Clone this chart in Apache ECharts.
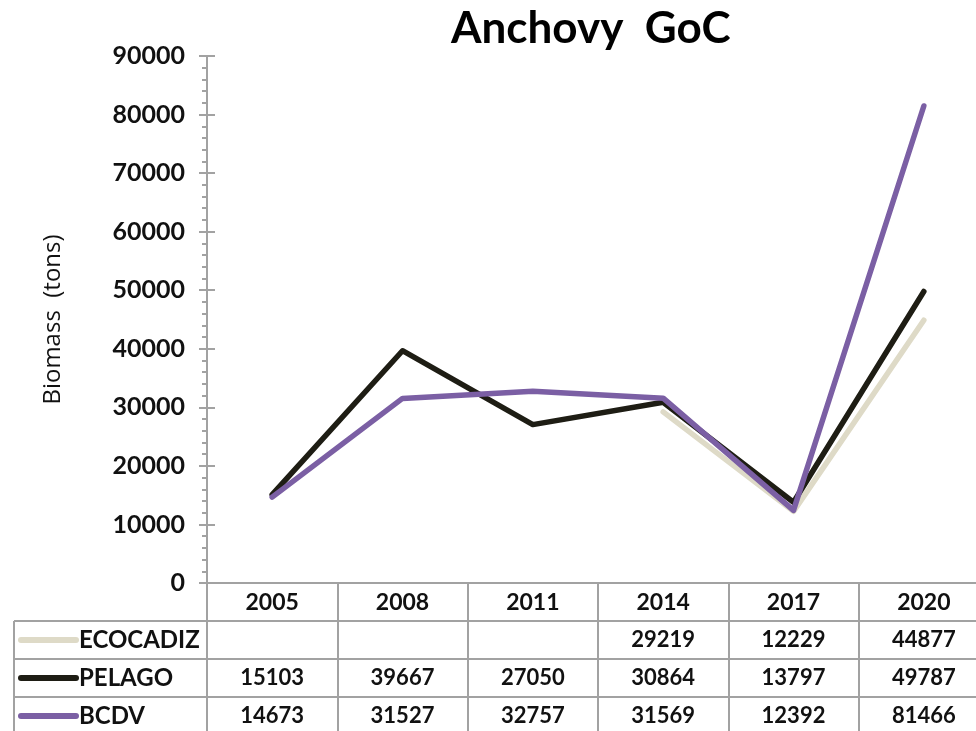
<!DOCTYPE html>
<html><head><meta charset="utf-8">
<script src="https://cdn.jsdelivr.net/npm/echarts@6/dist/echarts.min.js"></script>
<style>html,body{margin:0;padding:0;overflow:hidden;background:#fff}#c{width:976px;height:731px}</style>
</head><body><div id="c"></div>
<script>
const years = ['2005', '2008', '2011', '2014', '2017', '2020'];
const ecocadiz = [null, null, null, 29219, 12229, 44877];
const pelago = [15103, 39667, 27050, 30864, 13797, 49787];
const bcdv = [14673, 31527, 32757, 31569, 12392, 81466];
const seriesNames = ['ECOCADIZ', 'PELAGO', 'BCDV'];
const seriesValues = [ecocadiz, pelago, bcdv];
const seriesColors = ['#dedac7', '#1e1d14', '#7b5fa4'];
const yMin = 0, yMax = 90000, yStep = 10000;

const gray = '#a2a2a2';
const txt = '#111111';
const FONT = 'Lato';

const chart = echarts.init(document.getElementById('c'));
const option = {
  animation: false,
  backgroundColor: '#ffffff',
  title: {
    text: 'Anchovy  GoC',
    left: 446, top: 2,
    textStyle: { fontFamily: FONT, fontWeight: 'bold', fontSize: 44, color: '#000' }
  },
  grid: { left: 207, top: 56, width: 782, height: 527, outerBoundsMode: 'none', containLabel: false },
  xAxis: {
    type: 'category',
    data: years,
    boundaryGap: true,
    axisLine: { show: true, lineStyle: { color: gray, width: 2 } },
    axisTick: { show: true, interval: 0, length: 152, lineStyle: { color: gray, width: 2 } },
    axisLabel: { interval: 0, margin: 20, verticalAlign: 'middle', fontFamily: FONT, fontWeight: 'bold', fontSize: 23, color: txt },
    splitLine: { show: false }
  },
  yAxis: [{
    type: 'value',
    min: yMin, max: yMax, interval: yStep,
    name: 'Biomass  (tons)',
    nameLocation: 'middle',
    nameGap: 142,
    nameRotate: 90,
    nameTextStyle: { fontFamily: 'Open Sans', fontSize: 24, color: txt },
    axisLine: { show: true, lineStyle: { color: gray, width: 2 } },
    axisTick: { show: true, length: 8, lineStyle: { color: gray, width: 2 } },
    minorTick: { show: true, splitNumber: 5, length: 5, lineStyle: { color: gray, width: 2 } },
    axisLabel: { margin: 22, fontFamily: FONT, fontWeight: 'bold', fontSize: 25, color: txt, formatter: v => String(v) },
    splitLine: { show: false }
  }, {
    type: 'value',
    min: yMin, max: yMax, interval: yStep,
    position: 'left',
    axisLine: { show: false },
    axisTick: { show: true, inside: true, length: 8, lineStyle: { color: gray, width: 2 } },
    axisLabel: { show: false },
    splitLine: { show: false }
  }],
  series: seriesNames.map((n, i) => ({
    name: n,
    type: 'line',
    data: seriesValues[i],
    yAxisIndex: 0,
    showSymbol: false,
    symbol: 'none',
    connectNulls: false,
    z: 2 + i,
    lineStyle: { color: seriesColors[i], width: 5.5, cap: 'round', join: 'round' }
  }))
};
chart.setOption(option);

// Data table under the plot, aligned to the category axis
const y0 = chart.convertToPixel({ yAxisIndex: 0 }, 0);
const rowH = 38;
const tableLeft = 14;
const rightEnd = 990;
const g = [];
for (let k = 1; k <= 4; k++) {
  const y = Math.round(y0 + rowH * k);
  g.push({ type: 'line', shape: { x1: tableLeft, y1: y, x2: rightEnd, y2: y }, style: { stroke: gray, lineWidth: 2 } });
}
g.push({ type: 'line', shape: { x1: tableLeft, y1: Math.round(y0 + rowH), x2: tableLeft, y2: Math.round(y0 + rowH * 4) }, style: { stroke: gray, lineWidth: 2 } });
seriesNames.forEach((n, i) => {
  const cy = y0 + rowH * (i + 1) + rowH / 2;
  g.push({ type: 'line', shape: { x1: 21, y1: cy, x2: 76, y2: cy }, style: { stroke: seriesColors[i], lineWidth: 6, lineCap: 'round' }, z: 10 });
  g.push({ type: 'text', x: 79, y: cy, style: { text: n, fontFamily: FONT, fontWeight: 'bold', fontSize: 24, fill: txt, textAlign: 'left', textVerticalAlign: 'middle' }, z: 10 });
  seriesValues[i].forEach((v, j) => {
    if (v === null) return;
    const cx = chart.convertToPixel({ xAxisIndex: 0 }, years[j]);
    g.push({ type: 'text', x: cx, y: cy, style: { text: String(v), fontFamily: FONT, fontWeight: 'bold', fontSize: 22, fill: txt, textAlign: 'center', textVerticalAlign: 'middle' }, z: 10 });
  });
});
chart.setOption({ graphic: g });
</script>
</body></html>
